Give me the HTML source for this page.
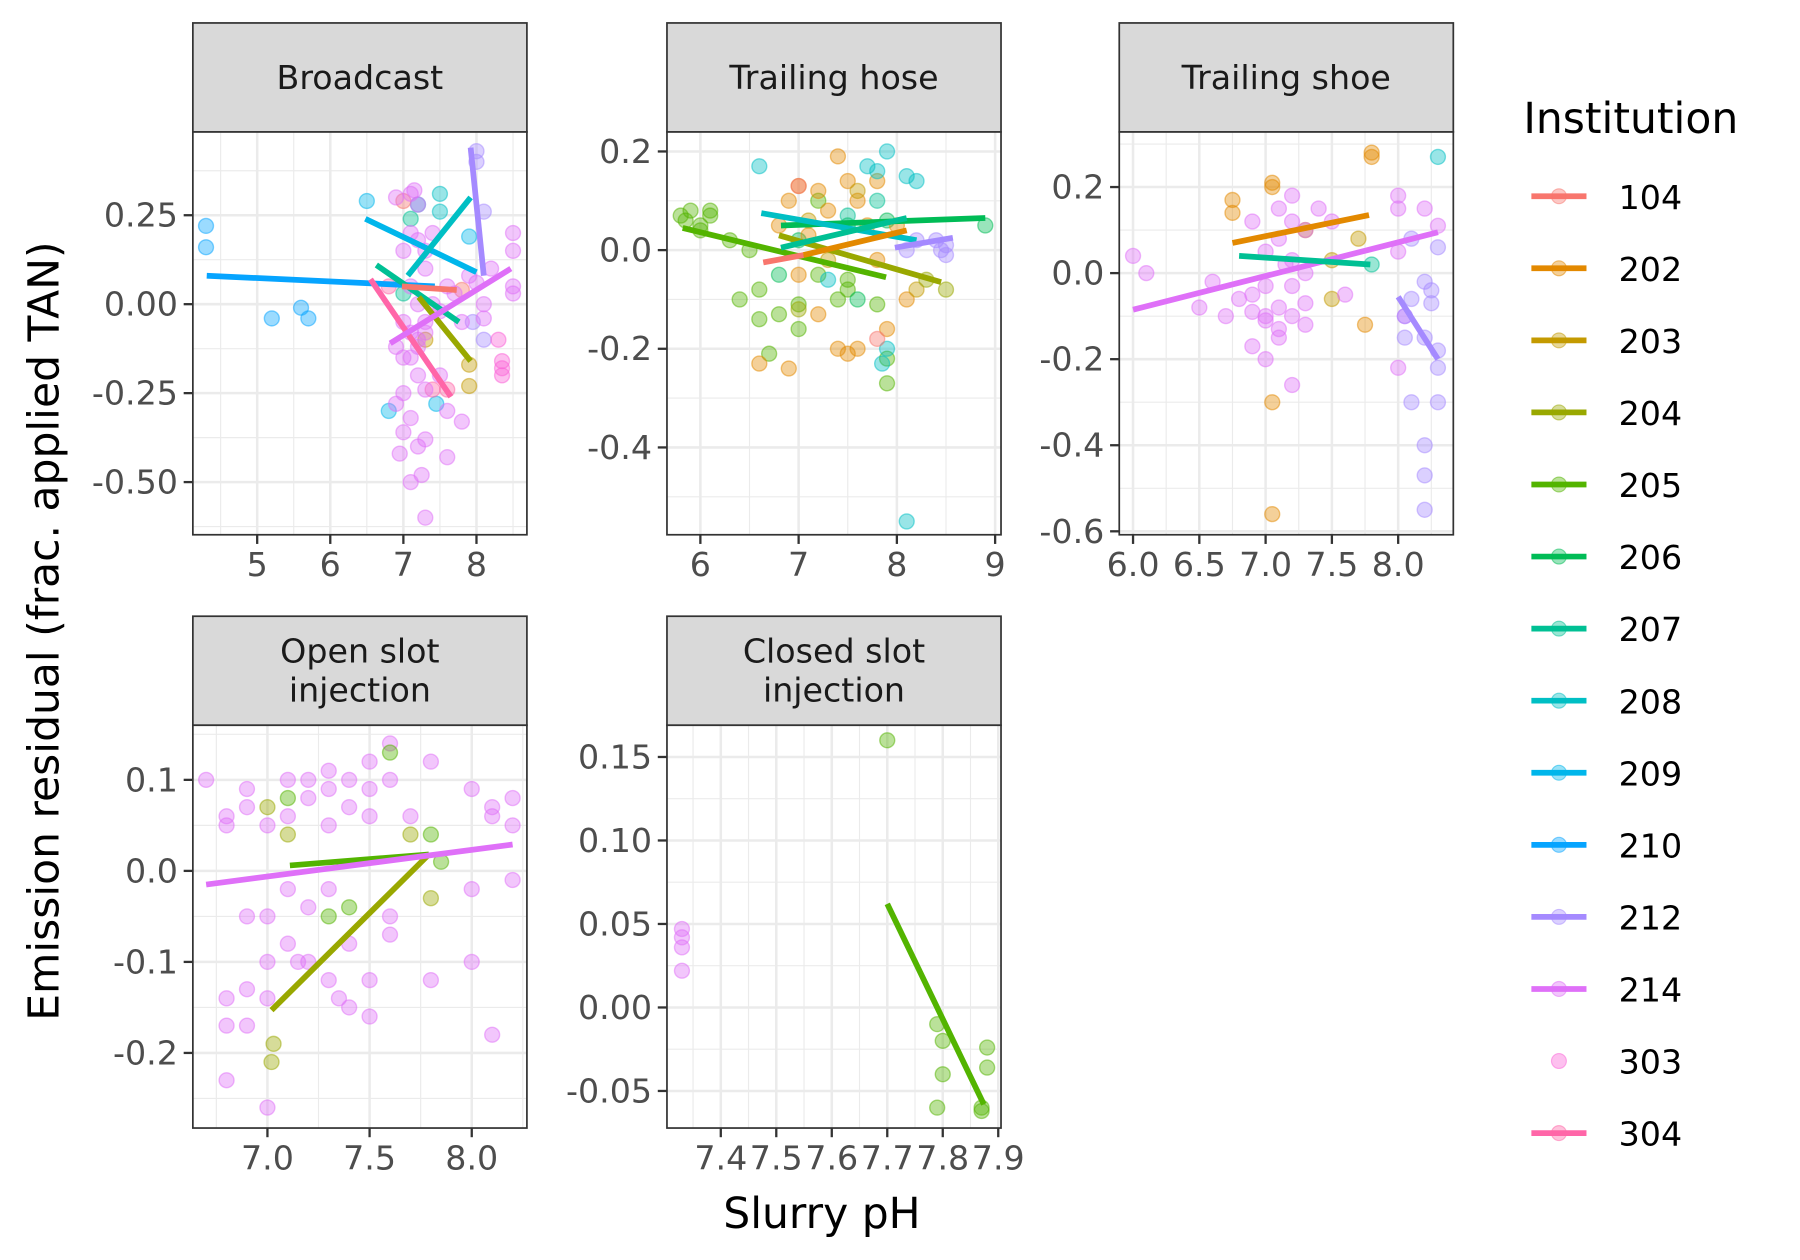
<!DOCTYPE html>
<html><head><meta charset="utf-8"><style>
html,body{margin:0;padding:0;background:#fff}
svg{display:block;font-family:"DejaVu Sans","Liberation Sans",sans-serif}
</style></head><body>
<svg id="chart" width="1800" height="1260" viewBox="0 0 1568 1098" preserveAspectRatio="none" xmlns="http://www.w3.org/2000/svg">
<text x="0" y="0" transform="translate(51,550) rotate(-90)" text-anchor="middle" font-size="37" fill="#000">Emission residual (frac. applied TAN)</text>
<text x="716" y="1070" text-anchor="middle" font-size="37" fill="#000">Slurry pH</text>
<g id="panels"></g>
<g id="legend"></g>
</svg>
<script>
const institutions=["104","202","203","204","205","206","207","208","209","210","212","214","303","304"];
const colors=["#F8766D","#E38900","#C49A00","#99A800","#53B400","#00BC56","#00C094","#00BFC4","#00B6EB","#06A4FF","#A58AFF","#DF70F8","#FB61D7","#FF66A8"];
const panelNames=["Broadcast","Trailing hose","Trailing shoe","Open slot injection","Closed slot injection"];
// points: [institution, pH, residual]
const broadcastPoints=[["210",4.3,0.22],["210",4.3,0.16],["210",5.2,-0.04],["210",5.6,-0.01],["210",5.7,-0.04],["209",6.5,0.29],["209",7.9,0.19],["209",7.45,-0.28],["209",6.8,-0.3],["208",7.5,0.31],["208",7.5,0.26],["208",7.2,0.28],["207",7.1,0.24],["207",7.0,0.03],["212",8.0,0.43],["212",8.0,0.4],["212",8.1,0.26],["212",8.1,-0.1],["212",7.95,-0.05],["104",7.0,0.29],["104",7.8,0.04],["203",7.9,-0.23],["203",7.9,-0.17],["203",7.3,-0.1],["304",7.4,-0.24],["304",7.6,-0.24],["304",6.8,0.05],
["214",6.9,0.3],["214",7.1,0.31],["214",7.15,0.32],["214",7.2,0.28],["214",7.1,0.2],["214",7.0,0.15],["214",7.3,0.1],["214",7.1,0.05],["214",7.2,0.0],["214",7.0,-0.05],["214",7.3,-0.08],["214",6.9,-0.12],["214",7.1,-0.15],["214",7.2,-0.2],["214",7.0,-0.25],["214",6.9,-0.28],["214",7.3,-0.24],["214",7.1,-0.32],["214",7.0,-0.36],["214",7.2,-0.4],["214",6.95,-0.42],["214",7.3,-0.38],["214",7.6,-0.43],["214",7.1,-0.5],["214",7.25,-0.48],["214",7.3,-0.6],["214",7.6,-0.3],["214",7.8,-0.33],["214",7.5,-0.2],["214",7.4,0.2],["214",8.5,0.2],["214",8.5,0.15],["214",8.5,0.05],["214",8.5,0.03],["303",8.35,-0.16],["303",8.35,-0.18],["303",8.35,-0.2],["303",8.3,-0.1],["214",8.2,0.1],["214",8.1,0.0],["214",7.8,-0.05],["214",7.7,0.03],["214",7.9,0.08],
["214",7.2,-0.1],["214",7.3,-0.05],["214",7.1,-0.08],["214",7.4,0.0],["214",7.0,-0.15],["214",7.2,-0.12],["214",7.5,-0.02],["214",7.6,0.05],["214",7.3,0.15],["214",7.2,0.18],["214",8.0,0.06],["214",8.1,-0.04]];
const hosePoints=[["205",5.8,0.07],["205",5.85,0.06],["205",5.9,0.08],["205",6.0,0.05],["205",6.1,0.08],["205",6.1,0.07],["205",6.0,0.04],["205",6.3,0.02],["205",6.5,0.0],["205",6.4,-0.1],["205",6.6,-0.08],["205",6.7,-0.21],["205",6.6,-0.14],["205",6.8,-0.13],["205",7.0,-0.11],["205",7.2,-0.05],["205",7.4,-0.1],["205",7.5,-0.08],["205",7.8,-0.11],["205",7.9,-0.22],["205",7.9,-0.27],["205",7.0,-0.16],["205",7.5,-0.06],["205",7.2,0.1],
["206",6.8,-0.05],["206",7.0,0.02],["206",7.5,0.05],["206",7.9,0.06],["206",8.9,0.05],["206",7.6,-0.1],
["202",6.8,0.05],["202",6.9,0.1],["202",7.0,-0.05],["202",7.1,0.03],["202",7.2,0.12],["202",7.4,0.19],["202",7.5,0.14],["202",7.3,0.08],["202",7.6,0.1],["202",7.7,0.05],["202",7.8,-0.02],["202",7.6,-0.2],["202",7.4,-0.2],["202",7.5,-0.21],["202",7.0,0.13],["202",7.8,0.14],["202",8.0,0.05],["202",8.1,-0.1],["202",7.2,-0.13],["202",6.6,-0.23],["202",6.9,-0.24],["202",7.9,-0.16],["203",7.3,-0.02],["203",7.6,0.12],["203",7.1,0.06],["203",8.2,-0.08],["204",8.5,-0.08],["204",8.3,-0.06],["204",7.0,-0.12],
["208",6.6,0.17],["208",7.9,0.2],["208",8.1,0.15],["208",8.2,0.14],["208",7.7,0.17],["208",7.8,0.16],["208",8.1,-0.55],["208",7.9,-0.2],["208",7.85,-0.23],["208",7.3,-0.06],["207",7.5,0.07],["207",7.8,0.1],
["212",8.1,0.0],["212",8.2,0.02],["212",8.4,0.02],["212",8.5,0.01],["212",8.45,0.0],["212",8.5,-0.01],["104",7.0,0.13],["104",7.8,-0.18]];
const shoePoints=[["202",7.8,0.28],["202",7.8,0.27],["202",7.05,0.21],["202",7.05,0.2],["202",6.75,0.17],["202",6.75,0.14],["202",7.05,-0.3],["202",7.05,-0.56],["202",7.75,-0.12],["203",7.7,0.08],["203",7.5,0.03],["203",7.5,-0.06],["203",7.3,0.1],
["207",7.8,0.02],["208",8.3,0.27],
["214",6.0,0.04],["214",6.1,0.0],["214",6.5,-0.08],["214",6.6,-0.02],["214",6.7,-0.1],["214",6.9,0.12],["214",6.9,-0.05],["214",7.0,0.05],["214",7.0,-0.1],["214",7.1,0.15],["214",7.1,0.08],["214",7.1,-0.08],["214",7.2,0.18],["214",7.2,0.12],["214",7.2,-0.03],["214",7.2,-0.1],["214",7.3,0.1],["214",7.3,0.0],["214",7.3,-0.12],["214",7.0,-0.2],["214",6.9,-0.17],["214",7.2,-0.26],["214",7.1,-0.15],["214",7.5,0.12],["214",7.6,-0.05],["214",7.4,0.15],["214",8.0,0.18],["214",8.0,0.15],["214",8.0,0.05],["214",8.2,0.15],["214",8.3,0.11],["214",8.0,-0.22],["214",8.05,-0.1],["214",7.0,-0.03],["214",7.15,0.02],
["214",6.8,-0.06],["214",6.9,-0.09],["214",7.0,-0.11],["214",7.1,-0.13],["214",7.2,0.03],["214",7.3,-0.07],
["212",8.05,-0.1],["212",8.1,0.08],["212",8.2,-0.02],["212",8.25,-0.07],["212",8.1,-0.3],["212",8.2,-0.4],["212",8.2,-0.47],["212",8.2,-0.55],["212",8.3,-0.18],["212",8.3,-0.22],["212",8.3,-0.3],["212",8.05,-0.15],["212",8.2,-0.15],["212",8.25,-0.04],["212",8.3,0.06],["212",8.1,-0.06]];
const openPoints=[["214",6.7,0.1],["214",6.8,0.06],["214",6.8,0.05],["214",6.8,-0.14],["214",6.8,-0.17],["214",6.8,-0.23],["214",6.9,0.09],["214",6.9,0.07],["214",6.9,-0.05],["214",6.9,-0.13],["214",6.9,-0.17],["214",7.0,0.05],["214",7.0,-0.05],["214",7.0,-0.1],["214",7.0,-0.26],["214",7.0,-0.14],["214",7.1,0.1],["214",7.1,0.06],["214",7.1,-0.02],["214",7.1,-0.08],["214",7.2,0.1],["214",7.2,0.08],["214",7.2,-0.04],["214",7.2,-0.1],["214",7.3,0.11],["214",7.3,0.09],["214",7.3,0.05],["214",7.3,-0.02],["214",7.3,-0.12],["214",7.4,0.1],["214",7.4,0.07],["214",7.4,-0.08],["214",7.4,-0.15],["214",7.5,0.12],["214",7.5,0.09],["214",7.5,0.06],["214",7.5,-0.12],["214",7.5,-0.16],["214",7.6,0.14],["214",7.6,0.1],["214",7.6,-0.05],["214",7.6,-0.07],["214",7.7,0.06],["214",7.8,0.12],["214",7.8,-0.12],["214",8.0,0.09],["214",8.0,-0.02],["214",8.0,-0.1],["214",8.1,0.07],["214",8.1,0.06],["214",8.1,-0.18],["214",8.2,0.08],["214",8.2,0.05],["214",8.2,-0.01],["214",7.35,-0.14],["214",7.15,-0.1],
["205",7.1,0.08],["205",7.6,0.13],["205",7.8,0.04],["205",7.3,-0.05],["205",7.4,-0.04],["205",7.85,0.01],
["204",7.0,0.07],["204",7.1,0.04],["204",7.7,0.04],["204",7.03,-0.19],["204",7.02,-0.21],["204",7.8,-0.03]];
const closedPoints=[["205",7.7,0.16],["205",7.79,-0.01],["205",7.8,-0.02],["205",7.8,-0.04],["205",7.79,-0.06],["205",7.87,-0.06],["205",7.87,-0.062],["205",7.88,-0.024],["205",7.88,-0.036],["214",7.33,0.047],["214",7.33,0.042],["214",7.33,0.036],["214",7.33,0.022]];
// fitted lines: [institution, x1, y1, x2, y2]
const broadcastLines=[["210",4.31,0.08,7.43,0.05],["209",6.48,0.24,8.0,0.09],["208",7.06,0.08,7.92,0.3],["207",6.63,0.11,7.76,-0.05],["204",7.21,0.02,7.92,-0.16],["104",6.98,0.05,7.73,0.04],["304",6.55,0.07,7.65,-0.26],["212",7.92,0.44,8.1,0.08],["214",6.82,-0.11,8.47,0.1]];
const hoseLines=[["205",5.82,0.045,7.89,-0.055],["204",6.8,0.03,8.45,-0.065],["206",6.82,0.05,8.9,0.065],["208",6.62,0.075,8.2,0.02],["207",6.82,0.005,8.1,0.065],["104",6.64,-0.025,7.05,-0.01],["202",7.05,-0.01,8.1,0.04],["212",7.98,0.005,8.57,0.025]];
const shoeLines=[["214",6.0,-0.085,8.3,0.095],["202",6.75,0.07,7.78,0.135],["207",6.8,0.04,7.79,0.02],["212",8.0,-0.055,8.3,-0.2]];
const openLines=[["205",7.11,0.006,7.79,0.018],["204",7.02,-0.153,7.79,0.018],["214",6.7,-0.015,8.2,0.029]];
const closedLines=[["205",7.7,0.062,7.874,-0.058]];
const xTicks=[[5,6,7,8],[6,7,8,9],[6.0,6.5,7.0,7.5,8.0],[7.0,7.5,8.0],[7.4,7.5,7.6,7.7,7.8,7.9]];
const yTicks=[[-0.5,-0.25,0,0.25],[-0.4,-0.2,0,0.2],[-0.6,-0.4,-0.2,0,0.2],[-0.2,-0.1,0,0.1],[-0.05,0,0.05,0.1,0.15]];
const xTickLabels=[["5","6","7","8"],["6","7","8","9"],["6.0","6.5","7.0","7.5","8.0"],["7.0","7.5","8.0"],["7.4","7.5","7.6","7.7","7.8","7.9"]];
const yTickLabels=[["-0.50","-0.25","0.00","0.25"],["-0.4","-0.2","0.0","0.2"],["-0.6","-0.4","-0.2","0.0","0.2"],["-0.2","-0.1","0.0","0.1"],["-0.05","0.00","0.05","0.10","0.15"]];
const xLims=[[4.12,8.69],[5.66,9.06],[5.896,8.416],[6.635,8.27],[7.303,7.905]];
const yLims=[[-0.648,0.484],[-0.577,0.2395],[-0.608,0.328],[-0.2825,0.16],[-0.0722,0.169]];
const allPoints=[broadcastPoints,hosePoints,shoePoints,openPoints,closedPoints];
const allLines=[broadcastLines,hoseLines,shoeLines,openLines,closedLines];
const layout=[[168,20],[581,20],[975,20],[168,537],[581,537]];
const NS="http://www.w3.org/2000/svg";
function mk(tag,attrs,parent){const e=document.createElementNS(NS,tag);for(const k in attrs)e.setAttribute(k,attrs[k]);parent.appendChild(e);return e;}
const panelsG=document.getElementById("panels");
const PW=291,SH=95,PH=351,SMALL=29;
const slug=s=>s.toLowerCase().replace(/ /g,"-");
panelNames.forEach((name,i)=>{
  const [L,T]=layout[i];const top=T+SH,bot=top+PH,R=L+PW;
  const g=mk("g",{},panelsG);
  
  
  const sx=v=>L+(v-xLims[i][0])/(xLims[i][1]-xLims[i][0])*PW;
  const sy=v=>bot-(v-yLims[i][0])/(yLims[i][1]-yLims[i][0])*PH;
  const strip=mk("rect",{x:L,y:T,width:PW,height:SH,fill:"#D9D9D9",stroke:"#333",'stroke-width':1.5},g);
  
  
  const words=name.indexOf("injection")>=0?[name.replace(" injection",""),"injection"]:[name];
  words.forEach((w,k)=>{const t=mk("text",{x:L+PW/2,y:T+SH/2+10+(words.length===2?(k-0.5)*34:0),'text-anchor':"middle",'font-size':SMALL,fill:"#1A1A1A"},g);t.textContent=w;
    
    });
  mk("rect",{x:L,y:top,width:PW,height:PH,fill:"#fff"},g);
  const xt=xTicks[i],yt=yTicks[i];
  const mids=a=>{const d=a[1]-a[0];const r=[];for(let v=a[0]-d/2;v<=a[a.length-1]+d;v+=d)r.push(v);return r;};
  mids(xt).forEach(v=>{if(v>xLims[i][0]&&v<xLims[i][1])mk("line",{x1:sx(v),x2:sx(v),y1:top,y2:bot,stroke:"#EBEBEB",'stroke-width':1},g);});
  mids(yt).forEach(v=>{if(v>yLims[i][0]&&v<yLims[i][1])mk("line",{x1:L,x2:R,y1:sy(v),y2:sy(v),stroke:"#EBEBEB",'stroke-width':1},g);});
  xt.forEach((v,k)=>{mk("line",{x1:sx(v),x2:sx(v),y1:top,y2:bot,stroke:"#EBEBEB",'stroke-width':2.2},g);
    mk("line",{x1:sx(v),x2:sx(v),y1:bot,y2:bot+8,stroke:"#333",'stroke-width':2},g);
    const t=mk("text",{x:sx(v),y:bot+36,'text-anchor':"middle",'font-size':SMALL,fill:"#4D4D4D"},g);t.textContent=xTickLabels[i][k];
    
    });
  yt.forEach((v,k)=>{mk("line",{x1:L,x2:R,y1:sy(v),y2:sy(v),stroke:"#EBEBEB",'stroke-width':2.2},g);
    mk("line",{x1:L-8,x2:L,y1:sy(v),y2:sy(v),stroke:"#333",'stroke-width':2},g);
    const t=mk("text",{x:L-13,y:sy(v)+10,'text-anchor':"end",'font-size':SMALL,fill:"#4D4D4D"},g);t.textContent=yTickLabels[i][k];
    
    });
  allPoints[i].forEach(p=>{const c=colors[institutions.indexOf(p[0])];
    const e=mk("circle",{cx:sx(p[1]),cy:sy(p[2]),r:6.5,fill:c,'fill-opacity':0.4,stroke:c,'stroke-opacity':0.5,'stroke-width':1.2},g);
    
    });
  allLines[i].forEach(l=>{const c=colors[institutions.indexOf(l[0])];
    const e=mk("line",{x1:sx(l[1]),y1:sy(l[2]),x2:sx(l[3]),y2:sy(l[4]),stroke:c,'stroke-width':5},g);
    
    });
  mk("rect",{x:L,y:top,width:PW,height:PH,fill:"none",stroke:"#333",'stroke-width':1.5},g);
});
const lg=document.getElementById("legend");
const lt=mk("text",{x:1327,y:116,'font-size':37,fill:"#000"},lg);lt.textContent="Institution";


institutions.forEach((inst,k)=>{const y=171+k*62.8;const c=colors[k];
  const e=mk("g",{},lg);
  
  
  if(inst!=="303")mk("line",{x1:1334,x2:1382,y1:y,y2:y,stroke:c,'stroke-width':5},e);
  mk("circle",{cx:1358,cy:y,r:6.5,fill:c,'fill-opacity':0.4,stroke:c,'stroke-opacity':0.5},e);
  const t=mk("text",{x:1410,y:y+11,'font-size':SMALL,fill:"#000"},e);t.textContent=inst;});
</script>
</body></html>
